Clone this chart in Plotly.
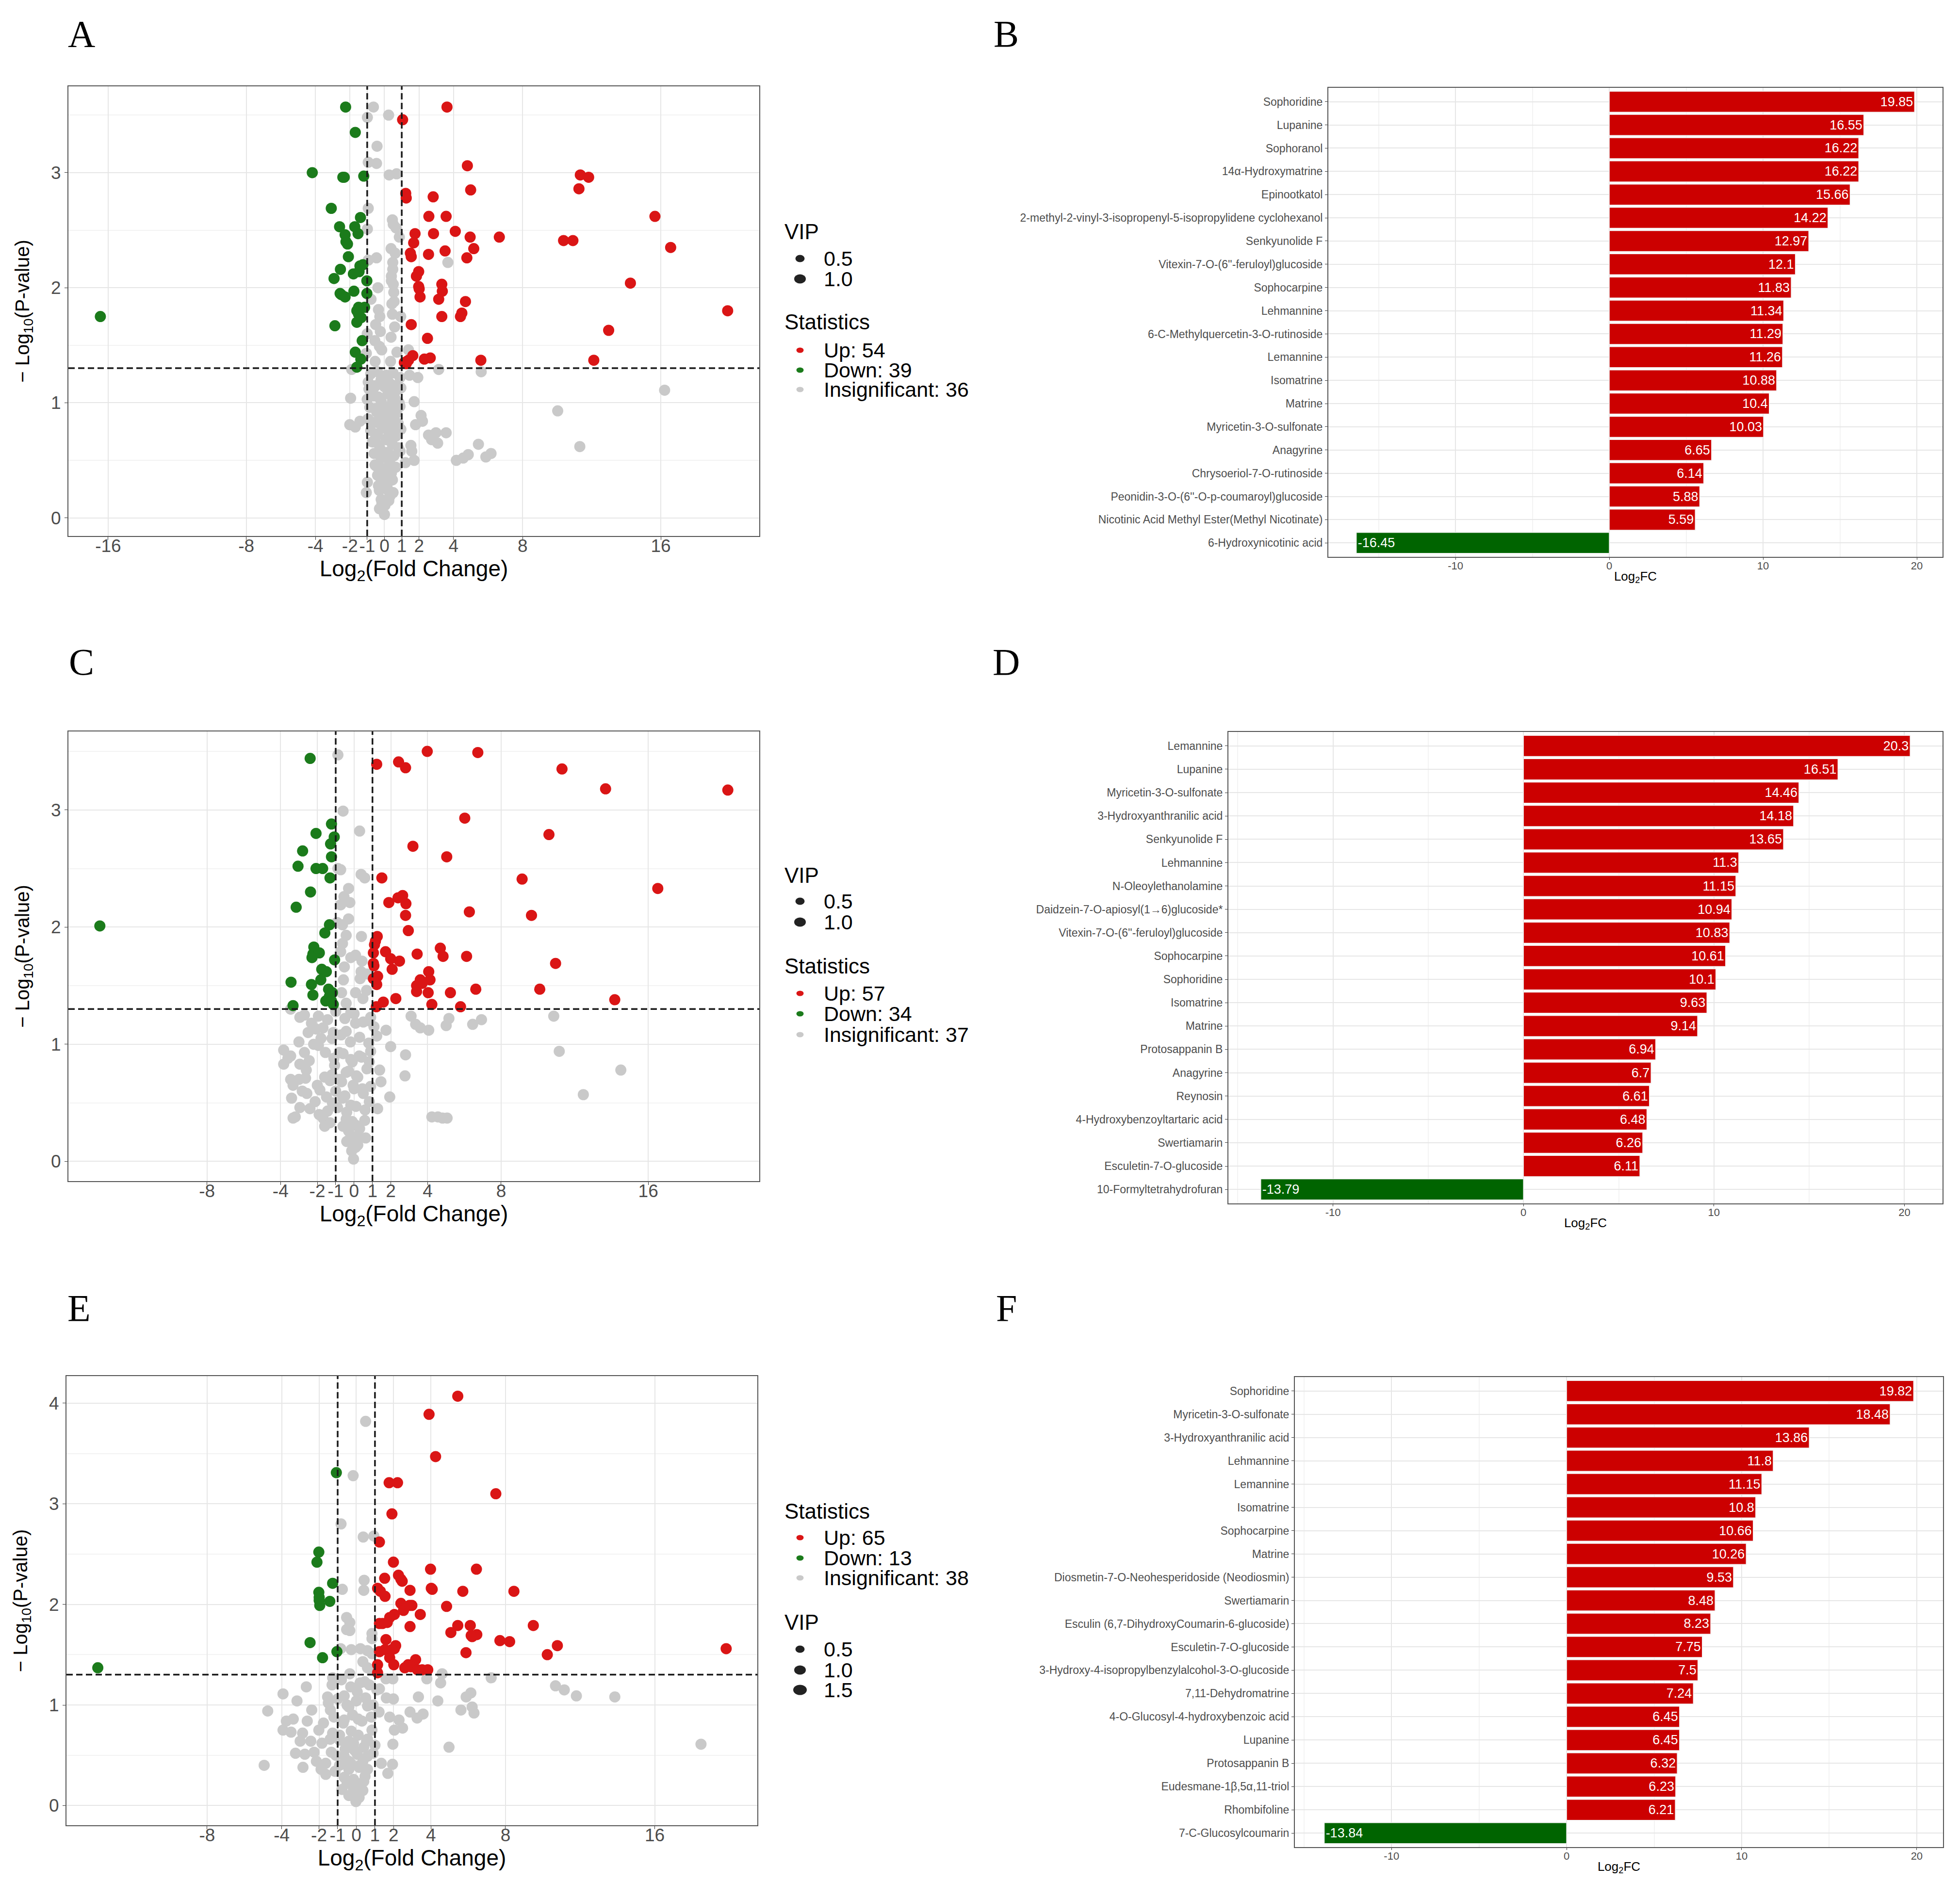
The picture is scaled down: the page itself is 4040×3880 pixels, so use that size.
import plotly.graph_objects as go

W, H = 4040, 3880

# ── Colours / fonts ───────────────────────────────────────────────────────────
RED, GREEN, GREY = "#DA1515", "#1B7B1B", "#C9C9C9"
BAR_RED, BAR_GREEN = "#CC0000", "#006400"
GRID, GRID_MINOR, FRAME = "#E6E6E6", "#F3F3F3", "#555555"
SANS = "Liberation Sans, Arial, sans-serif"
SERIF = "Liberation Serif, Times New Roman, serif"

# thresholds drawn as dashed lines
FC_CUT = 1
P_CUT = 1.30103   # -log10(0.05)

# ── Panel A: volcano (log2FC, -log10 p) ───────────────────────────────────────
a_up = [(3.62, 3.57), (1.05, 3.46), (4.8, 3.06), (11.34, 2.98), (11.82, 2.96), (11.26, 2.86),
        (4.99, 2.85), (1.23, 2.82), (1.26, 2.78), (2.82, 2.79), (2.57, 2.62), (3.57, 2.62),
        (15.66, 2.62), (1.77, 2.47), (2.84, 2.47), (4.1, 2.49), (4.96, 2.44), (6.65, 2.44),
        (10.37, 2.41), (10.91, 2.41), (16.57, 2.35), (1.69, 2.39), (3.51, 2.32), (5.17, 2.34),
        (1.5, 2.30), (1.55, 2.27), (2.55, 2.29), (4.77, 2.26), (1.98, 2.14), (1.85, 2.10),
        (14.24, 2.04), (3.32, 2.03), (3.35, 1.97), (1.98, 2.01), (2.01, 1.99), (2.06, 1.92),
        (3.14, 1.90), (4.69, 1.88), (19.87, 1.80), (4.48, 1.78), (4.4, 1.75), (3.32, 1.75),
        (1.55, 1.68), (12.98, 1.63), (2.49, 1.56), (1.64, 1.41), (2.65, 1.39), (2.31, 1.38),
        (5.58, 1.37), (12.12, 1.37), (1.39, 1.37), (1.26, 1.34), (1.15, 1.35), (1.3, 1.36)]
a_down = [(-16.45, 1.75), (-2.25, 3.57), (-1.69, 3.35), (-4.18, 3.0), (-2.41, 2.96), (-2.33, 2.96),
          (-1.2, 2.97), (-3.08, 2.69), (-1.39, 2.61), (-2.6, 2.53), (-1.72, 2.53), (-1.53, 2.47),
          (-2.28, 2.46), (-2.23, 2.40), (-2.14, 2.38), (-2.09, 2.27), (-1.42, 2.19), (-2.55, 2.16),
          (-1.47, 2.14), (-1.8, 2.12), (-2.92, 2.08), (-1.02, 2.06), (-1.77, 1.97), (-2.57, 1.95),
          (-2.5, 1.94), (-2.28, 1.92), (-1.02, 1.95), (-1.15, 1.83), (-1.5, 1.83), (-1.6, 1.80),
          (-1.5, 1.77), (-1.6, 1.70), (-2.87, 1.67), (-1.29, 1.54), (-1.69, 1.44), (-1.37, 1.38),
          (-1.6, 1.31), (-1.35, 1.74), (-1.25, 2.2)]
a_grey = [(-0.64, 3.57), (0.24, 3.5), (-0.99, 3.48), (-0.43, 3.23), (-0.94, 3.09), (-0.46, 3.08),
          (0.27, 2.98), (0.7, 2.99), (-0.94, 2.69), (0.46, 2.59), (0.51, 2.55), (-0.99, 2.51),
          (0.67, 2.52), (0.86, 2.44), (0.38, 2.34), (0.62, 2.30), (-0.46, 2.26), (-0.94, 2.24),
          (3.67, 2.22), (0.48, 2.22), (0.48, 2.16), (0.4, 2.1), (0.4, 2.06), (0.51, 2.03),
          (-0.38, 2.0), (0.54, 1.96), (-0.78, 1.90), (0.56, 1.88), (0.43, 1.86), (-0.35, 1.81),
          (-0.27, 1.75), (0.46, 1.77), (0.94, 1.75), (-0.51, 1.68), (0.59, 1.66), (-0.24, 1.62),
          (0.38, 1.57), (-1.0, 1.60), (-0.56, 1.54), (-0.29, 1.49), (-0.16, 1.46), (1.39, 1.46),
          (0.72, 1.44), (-1.05, 1.43), (0.35, 1.36), (-0.54, 1.36), (-1.9, 1.29), (3.14, 1.29),
          (5.6, 1.27), (-0.16, 1.23), (-0.94, 1.18), (0.19, 1.19), (1.45, 1.24), (1.93, 1.22),
          (-0.62, 1.13), (0.59, 1.15), (16.22, 1.11), (-1.96, 1.04), (1.72, 1.01), (-0.35, 1.05),
          (0.46, 1.02), (10.03, 0.93), (-0.51, 0.95), (0.08, 0.93), (2.12, 0.89), (2.2, 0.84),
          (-1.42, 0.84), (-2.01, 0.81), (1.8, 0.81), (-0.29, 0.82), (0.4, 0.79), (-1.69, 0.79),
          (2.55, 0.72), (2.98, 0.74), (3.57, 0.74), (2.73, 0.68), (3.08, 0.65), (-0.51, 0.70),
          (0.13, 0.69), (11.31, 0.62), (5.44, 0.64), (1.53, 0.63), (1.58, 0.58), (6.17, 0.56),
          (5.87, 0.53), (4.85, 0.55), (4.56, 0.52), (4.16, 0.50), (1.72, 0.50), (1.21, 0.48),
          (-0.21, 0.59), (0.29, 0.53), (-0.48, 0.45), (0.19, 0.42), (-0.08, 0.36), (0.46, 0.33),
          (-0.35, 0.28), (0.13, 0.25), (-0.99, 0.31), (-1.05, 0.22), (-0.19, 0.16), (0.03, 0.11),
          (-0.29, 0.08), (0.0, 0.03), (0.32, 0.19),
          (-0.8, 1.25), (-0.4, 1.27), (0.1, 1.24), (0.5, 1.26), (0.9, 1.22), (-0.2, 1.2),
          (-0.9, 1.12), (-0.5, 1.15), (0.0, 1.14), (0.3, 1.17), (0.7, 1.11), (0.95, 1.13),
          (-1.0, 1.03), (-0.6, 1.06), (-0.2, 1.02), (0.2, 1.08), (0.6, 1.04), (0.85, 1.0),
          (-0.85, 0.96), (-0.45, 0.92), (-0.1, 0.98), (0.3, 0.95), (0.7, 0.91), (0.9, 0.97),
          (-0.95, 0.86), (-0.65, 0.83), (-0.25, 0.88), (0.15, 0.84), (0.5, 0.87), (0.8, 0.82),
          (-0.8, 0.76), (-0.4, 0.73), (0.0, 0.78), (0.35, 0.75), (0.65, 0.71), (0.95, 0.77),
          (-0.7, 0.66), (-0.3, 0.63), (0.1, 0.68), (0.45, 0.64), (0.8, 0.61),
          (-0.6, 0.56), (-0.2, 0.52), (0.2, 0.57), (0.55, 0.54), (0.9, 0.58),
          (-0.55, 0.46), (-0.1, 0.43), (0.3, 0.48), (0.65, 0.44),
          (-0.4, 0.37), (0.0, 0.34), (0.4, 0.39), (-0.3, 0.24), (0.15, 0.27), (0.5, 0.22),
          (-0.15, 0.13), (0.25, 0.15)]

# ── Panel C: volcano ──────────────────────────────────────────────────────────
c_up = [(3.98, 3.50), (6.73, 3.49), (1.23, 3.39), (2.42, 3.41), (2.80, 3.36), (11.31, 3.35),
        (13.68, 3.18), (20.33, 3.17), (6.02, 2.93), (10.6, 2.79), (3.2, 2.69), (5.04, 2.60),
        (1.51, 2.42), (9.14, 2.41), (16.52, 2.33), (2.64, 2.27), (2.39, 2.25), (1.89, 2.21),
        (2.82, 2.20), (6.27, 2.13), (9.65, 2.10), (2.8, 2.10), (2.95, 1.97), (1.26, 1.92),
        (1.16, 1.88), (1.11, 1.85), (4.69, 1.82), (1.71, 1.79), (1.05, 1.78), (3.43, 1.77),
        (4.84, 1.75), (6.12, 1.75), (1.99, 1.73), (2.47, 1.71), (1.05, 1.69), (1.08, 1.67),
        (10.96, 1.69), (2.07, 1.64), (4.06, 1.62), (3.6, 1.55), (4.13, 1.55), (1.28, 1.58),
        (1.05, 1.56), (1.23, 1.51), (3.4, 1.50), (6.62, 1.47), (10.1, 1.47), (3.4, 1.45),
        (4.03, 1.44), (5.24, 1.44), (2.27, 1.39), (14.18, 1.38), (1.59, 1.36), (4.23, 1.34),
        (5.79, 1.32), (1.21, 1.32), (3.7, 1.52)]
c_down = [(-13.83, 2.01), (-2.39, 3.44), (-1.23, 2.88), (-2.07, 2.80), (-1.08, 2.77), (-1.28, 2.71),
          (-2.8, 2.65), (-1.23, 2.60), (-3.05, 2.52), (-2.07, 2.50), (-1.71, 2.50), (-1.31, 2.42),
          (-2.37, 2.30), (-3.15, 2.17), (-1.34, 2.02), (-1.59, 1.95), (-2.19, 1.83), (-2.24, 1.77),
          (-1.89, 1.78), (-2.29, 1.74), (-1.06, 1.72), (-1.76, 1.64), (-1.51, 1.62), (-1.81, 1.55),
          (-3.43, 1.53), (-2.32, 1.51), (-1.39, 1.47), (-1.18, 1.44), (-2.24, 1.42), (-1.34, 1.41),
          (-1.54, 1.37), (-1.13, 1.34), (-3.32, 1.33), (-1.23, 1.37)]
c_grey = [(-0.88, 3.47), (-0.6, 2.99), (0.3, 2.82), (-0.88, 2.50), (-0.73, 2.49), (0.38, 2.45),
          (0.58, 2.42), (-0.3, 2.33), (-0.55, 2.26), (-0.73, 2.19), (-0.23, 2.21), (-0.3, 2.07),
          (-0.93, 2.04), (-0.63, 2.02), (-0.43, 1.93), (0.4, 1.92), (-0.63, 1.86), (-0.73, 1.79),
          (-0.18, 1.74), (0.08, 1.76), (0.43, 1.71), (-0.53, 1.66), (0.38, 1.62), (0.71, 1.60),
          (0.33, 1.56), (-0.58, 1.55), (0.68, 1.46), (0.08, 1.44), (-0.68, 1.44), (0.48, 1.39),
          (-0.43, 1.35), (-3.45, 1.30), (-2.7, 1.25), (-2.95, 1.23), (-1.94, 1.24), (-1.44, 1.21),
          (-0.18, 1.27), (0.08, 1.18), (0.83, 1.20), (3.1, 1.24), (3.35, 1.17), (3.6, 1.14),
          (4.06, 1.12), (5.16, 1.22), (5.01, 1.16), (6.45, 1.17), (6.93, 1.21), (10.86, 1.24),
          (-2.32, 1.18), (-2.07, 1.13), (-1.69, 1.14), (-1.13, 1.10), (-0.43, 1.11), (1.08, 1.15),
          (1.74, 1.12), (1.23, 1.07), (1.99, 0.98), (2.8, 0.91), (11.16, 0.94), (-3.83, 0.95),
          (-3.45, 0.90), (-2.7, 0.93), (-1.94, 0.99), (-1.56, 0.93), (-2.44, 0.86), (-3.83, 0.83),
          (-2.95, 0.83), (-0.81, 0.93), (-0.18, 0.87), (0.28, 0.90), (0.83, 0.85), (-1.06, 0.82),
          (-0.43, 0.76), (0.13, 0.73), (1.39, 0.78), (1.46, 0.68), (2.77, 0.73), (14.51, 0.78),
          (-3.45, 0.70), (-2.64, 0.71), (-3.32, 0.65), (-1.31, 0.69), (-0.68, 0.68), (-0.05, 0.65),
          (0.45, 0.62), (-2.82, 0.60), (-1.86, 0.61), (-2.57, 0.58), (-3.40, 0.54), (-2.12, 0.51),
          (-1.18, 0.50), (-0.63, 0.54), (1.94, 0.55), (12.47, 0.57), (-0.18, 0.48), (0.83, 0.51),
          (-2.95, 0.46), (-1.44, 0.43), (1.28, 0.45), (-3.2, 0.38), (-3.32, 0.37), (4.23, 0.38),
          (4.56, 0.38), (4.81, 0.37), (5.06, 0.37), (-1.69, 0.37), (-1.31, 0.33), (-0.43, 0.36),
          (0.08, 0.31), (0.58, 0.35), (-0.3, 0.26), (0.2, 0.22), (-0.05, 0.17), (0.63, 0.20),
          (0.08, 0.12), (-0.03, 0.02), (-0.13, 0.09),
          (-1.0, 1.28), (-0.5, 1.22), (0.0, 1.26), (0.5, 1.19), (0.9, 1.23),
          (-1.2, 1.05), (-0.7, 1.08), (-0.2, 1.02), (0.3, 1.06), (0.8, 1.01),
          (-1.1, 0.88), (-0.6, 0.92), (-0.1, 0.85), (0.4, 0.89), (0.9, 0.94),
          (-1.2, 0.74), (-0.8, 0.70), (-0.3, 0.77), (0.2, 0.72), (0.7, 0.79),
          (-1.0, 0.60), (-0.5, 0.56), (0.0, 0.62), (0.5, 0.58), (0.9, 0.64),
          (-0.9, 0.46), (-0.4, 0.42), (0.1, 0.47), (0.6, 0.44),
          (-0.6, 0.30), (-0.1, 0.34), (0.3, 0.28), (-0.2, 0.20), (0.2, 0.14), (-0.4, 0.17),
          (-2.5, 1.10), (-3.0, 1.02), (-2.2, 1.00), (-1.8, 1.05), (-2.6, 0.78), (-3.6, 0.88),
          (-1.6, 0.72), (-2.0, 0.65), (-3.0, 0.70), (-1.5, 0.55), (-2.4, 0.45), (-1.9, 0.40),
          (-1.6, 0.30)]

# ── Panel E: volcano ──────────────────────────────────────────────────────────
e_up = [(5.44, 4.07), (3.9, 3.89), (4.25, 3.47), (1.76, 3.21), (2.21, 3.21), (7.48, 3.10),
        (1.91, 2.90), (1.24, 2.62), (1.99, 2.42), (3.98, 2.35), (6.44, 2.35), (1.52, 2.26),
        (2.26, 2.29), (2.39, 2.25), (2.46, 2.23), (1.14, 2.16), (1.29, 2.13), (2.88, 2.14),
        (4.02, 2.16), (4.07, 2.15), (5.71, 2.13), (8.45, 2.13), (1.54, 2.08), (2.39, 2.01),
        (2.98, 1.99), (4.84, 1.98), (2.53, 1.94), (3.43, 1.90), (2.04, 1.90), (1.79, 1.87),
        (1.66, 1.82), (1.24, 1.81), (2.88, 1.78), (5.44, 1.79), (6.11, 1.79), (9.49, 1.79),
        (5.07, 1.72), (6.16, 1.69), (6.46, 1.70), (6.21, 1.68), (1.59, 1.65), (7.7, 1.64),
        (8.22, 1.63), (10.78, 1.59), (19.83, 1.56), (2.11, 1.59), (2.04, 1.56), (1.54, 1.55),
        (1.24, 1.53), (5.88, 1.52), (10.24, 1.50), (1.79, 1.47), (3.18, 1.45), (1.14, 1.40),
        (2.01, 1.40), (2.78, 1.40), (2.93, 1.38), (3.28, 1.35), (3.53, 1.35), (3.83, 1.35),
        (1.14, 1.32), (2.85, 1.99), (1.4, 1.81), (2.6, 1.37), (1.9, 1.55)]
e_down = [(-13.86, 1.37), (-1.07, 3.31), (-2.01, 2.52), (-2.11, 2.42), (-1.27, 2.21), (-2.01, 2.12),
          (-1.99, 2.04), (-1.42, 2.03), (-1.96, 1.99), (-2.48, 1.62), (-1.04, 1.53), (-1.81, 1.47),
          (-1.99, 2.07)]
e_grey = [(0.5, 3.82), (-0.17, 3.28), (-0.82, 2.80), (0.37, 2.67), (0.94, 2.68), (0.42, 2.24),
          (-0.75, 2.15), (0.4, 2.14), (-0.52, 1.87), (-0.35, 1.82), (-0.52, 1.75), (-0.35, 1.74),
          (0.84, 1.71), (0.84, 1.66), (-0.84, 1.56), (-0.27, 1.55), (0.22, 1.56), (0.6, 1.54),
          (0.84, 1.51), (0.35, 1.43), (0.6, 1.37), (0.8, 1.35), (-0.35, 1.31), (4.6, 1.31),
          (4.52, 1.22), (7.23, 1.27), (3.78, 1.26), (1.59, 1.26), (1.96, 1.26), (-1.27, 1.27),
          (0.45, 1.23), (-2.68, 1.18), (-3.93, 1.11), (-3.18, 1.04), (-1.54, 1.08), (-0.65, 1.09),
          (0.05, 1.13), (1.24, 1.16), (3.33, 1.08), (4.37, 1.04), (1.61, 1.07), (1.99, 1.06),
          (6.14, 1.12), (5.89, 1.08), (10.68, 1.19), (11.15, 1.15), (11.8, 1.09), (13.86, 1.08),
          (-4.75, 0.94), (-2.39, 0.95), (-1.39, 0.95), (-0.4, 0.98), (0.6, 0.99), (1.22, 0.93),
          (2.88, 0.93), (5.61, 0.95), (6.21, 0.98), (6.31, 0.92), (3.58, 0.91), (3.26, 0.87),
          (1.79, 0.88), (2.29, 0.85), (-3.38, 0.86), (-3.75, 0.84), (-2.63, 0.84), (-1.76, 0.82),
          (-0.65, 0.85), (0.1, 0.86), (-3.93, 0.75), (-3.5, 0.73), (-2.88, 0.72), (-2.01, 0.75),
          (-1.27, 0.72), (-0.27, 0.74), (0.84, 0.75), (2.04, 0.75), (2.48, 0.77), (-3.01, 0.64),
          (-2.44, 0.64), (-1.84, 0.62), (-0.89, 0.65), (-0.15, 0.62), (0.55, 0.64), (1.96, 0.61),
          (4.97, 0.58), (18.48, 0.61), (-3.26, 0.52), (-2.76, 0.51), (-2.26, 0.53), (-1.34, 0.53),
          (-0.65, 0.49), (0.05, 0.51), (0.6, 0.49), (-2.14, 0.44), (-1.64, 0.42), (-0.4, 0.44),
          (0.35, 0.44), (1.34, 0.42), (1.94, 0.41), (-4.94, 0.40), (-2.86, 0.38), (-1.89, 0.36),
          (-1.14, 0.34), (-0.4, 0.36), (0.15, 0.38), (1.69, 0.32), (-1.64, 0.31), (-0.65, 0.28),
          (-0.15, 0.26), (0.47, 0.29), (-0.77, 0.16), (-0.15, 0.16), (0.35, 0.15), (-0.4, 0.10),
          (-0.02, 0.04), (0.15, 0.08),
          (-1.3, 1.20), (-0.8, 1.25), (-0.3, 1.18), (0.2, 1.22), (0.7, 1.20), (1.1, 1.15),
          (-1.5, 1.02), (-1.0, 1.06), (-0.5, 1.00), (0.0, 1.04), (0.5, 1.07), (0.9, 1.00),
          (-1.2, 0.88), (-0.7, 0.82), (-0.2, 0.90), (0.3, 0.84), (0.8, 0.88),
          (-1.4, 0.66), (-0.9, 0.70), (-0.4, 0.64), (0.1, 0.70), (0.6, 0.66), (1.0, 0.60),
          (-1.1, 0.50), (-0.6, 0.56), (-0.1, 0.55), (0.4, 0.58), (0.9, 0.52),
          (-0.9, 0.40), (-0.3, 0.42), (0.2, 0.40), (0.6, 0.36),
          (-0.5, 0.22), (0.0, 0.20), (0.4, 0.24), (-0.2, 0.10), (0.1, 0.12)]

a_counts = {"up": 54, "down": 39, "insig": "36"}
c_counts = {"up": 57, "down": 34, "insig": "37"}
e_counts = {"up": 65, "down": 13, "insig": "38"}
vip_levels_ac = ["0.5", "1.0"]
vip_levels_e = ["0.5", "1.0", "1.5"]

# ── Bar panels (top 20 by log2FC) ─────────────────────────────────────────────
b_names = ["Sophoridine", "Lupanine", "Sophoranol", "14α-Hydroxymatrine", "Epinootkatol",
           "2-methyl-2-vinyl-3-isopropenyl-5-isopropylidene cyclohexanol", "Senkyunolide F",
           "Vitexin-7-O-(6''-feruloyl)glucoside", "Sophocarpine", "Lehmannine",
           "6-C-Methylquercetin-3-O-rutinoside", "Lemannine", "Isomatrine", "Matrine",
           "Myricetin-3-O-sulfonate", "Anagyrine", "Chrysoeriol-7-O-rutinoside",
           "Peonidin-3-O-(6''-O-p-coumaroyl)glucoside",
           "Nicotinic Acid Methyl Ester(Methyl Nicotinate)", "6-Hydroxynicotinic acid"]
b_vals = [19.85, 16.55, 16.22, 16.22, 15.66, 14.22, 12.97, 12.1, 11.83, 11.34,
          11.29, 11.26, 10.88, 10.4, 10.03, 6.65, 6.14, 5.88, 5.59, -16.45]

d_names = ["Lemannine", "Lupanine", "Myricetin-3-O-sulfonate", "3-Hydroxyanthranilic acid",
           "Senkyunolide F", "Lehmannine", "N-Oleoylethanolamine",
           "Daidzein-7-O-apiosyl(1→6)glucoside*", "Vitexin-7-O-(6''-feruloyl)glucoside",
           "Sophocarpine", "Sophoridine", "Isomatrine", "Matrine", "Protosappanin B",
           "Anagyrine", "Reynosin", "4-Hydroxybenzoyltartaric acid", "Swertiamarin",
           "Esculetin-7-O-glucoside", "10-Formyltetrahydrofuran"]
d_vals = [20.3, 16.51, 14.46, 14.18, 13.65, 11.3, 11.15, 10.94, 10.83, 10.61,
          10.1, 9.63, 9.14, 6.94, 6.7, 6.61, 6.48, 6.26, 6.11, -13.79]

f_names = ["Sophoridine", "Myricetin-3-O-sulfonate", "3-Hydroxyanthranilic acid", "Lehmannine",
           "Lemannine", "Isomatrine", "Sophocarpine", "Matrine",
           "Diosmetin-7-O-Neohesperidoside (Neodiosmin)", "Swertiamarin",
           "Esculin (6,7-DihydroxyCoumarin-6-glucoside)", "Esculetin-7-O-glucoside",
           "3-Hydroxy-4-isopropylbenzylalcohol-3-O-glucoside", "7,11-Dehydromatrine",
           "4-O-Glucosyl-4-hydroxybenzoic acid", "Lupanine", "Protosappanin B",
           "Eudesmane-1β,5α,11-triol", "Rhombifoline", "7-C-Glucosylcoumarin"]
f_vals = [19.82, 18.48, 13.86, 11.8, 11.15, 10.8, 10.66, 10.26, 9.53, 8.48,
          8.23, 7.75, 7.5, 7.24, 6.45, 6.45, 6.32, 6.23, 6.21, -13.84]

VOLC_X_TICKS_A = [-16, -8, -4, -2, -1, 0, 1, 2, 4, 8, 16]
VOLC_X_TICKS_CE = [-8, -4, -2, -1, 0, 1, 2, 4, 8, 16]

# legend key sizes (w, h px) - the source image is stretched sideways a bit
VIP_KEY = {"0.5": (19, 15), "1.0": (24, 19), "1.5": (28, 21)}
STAT_KEY = (15, 11)


def dom_x(l, r):
    return [l / W, r / W]


def dom_y(t, b):
    return [1 - b / H, 1 - t / H]


fig = go.Figure()


def key_text(text, x, y, size):
    fig.add_annotation(text=text, x=x / W, y=1 - y / H, xref="paper", yref="paper",
                       showarrow=False, xanchor="left", yanchor="middle",
                       font=dict(family=SANS, size=size, color="black"))


def key_dot(x, y, wh, color):
    w, h = wh
    fig.add_shape(type="circle", xref="paper", yref="paper", xsizemode="pixel", ysizemode="pixel",
                  xanchor=x / W, yanchor=1 - y / H, x0=-w / 2, x1=w / 2, y0=-h / 2, y1=h / 2,
                  fillcolor=color, line=dict(width=0))


def legend_block(blocks, x_title=1607, x_dot=1641, x_text=1688):
    # blocks: list of (title, title_y, [(label, y, colour, (w, h)), ...])
    for title, ty, items in blocks:
        key_text(title, x_title, ty, 44)
        for label, y, col, wh in items:
            key_dot(x_dot, y, wh, col)
            key_text(label, x_text, y, 43)


def volcano(n, grey, down, up, xr, yr, xticks, yticks, frame):
    xa = "x" if n == 1 else f"x{n}"
    ya = "y" if n == 1 else f"y{n}"
    for pts, col in [(grey, GREY), (down, GREEN), (up, RED)]:
        fig.add_trace(go.Scatter(
            x=[p[0] for p in pts], y=[p[1] for p in pts], mode="markers",
            marker=dict(color=col, size=23, line=dict(width=0)),
            xaxis=xa, yaxis=ya, showlegend=False, hoverinfo="skip"))

    key = "" if n == 1 else str(n)
    fig.update_layout(**{
        f"xaxis{key}": dict(
            domain=dom_x(frame[0], frame[1]), anchor=ya, range=xr,
            tickvals=xticks, ticktext=[str(t) for t in xticks], tickangle=0,
            showgrid=True, gridcolor=GRID, gridwidth=2, zeroline=False,
            showline=True, mirror=True, linecolor=FRAME, linewidth=2,
            ticks="outside", ticklen=6, tickcolor="#333333", ticklabelstandoff=-19,
            tickfont=dict(size=37, color="#4D4D4D"),
            title=dict(text="Log<sub>2</sub>(Fold Change)", font=dict(size=46, color="black"), standoff=0)),
        f"yaxis{key}": dict(
            domain=dom_y(frame[2], frame[3]), anchor=xa, range=yr,
            tickvals=yticks, ticktext=[str(t) for t in yticks],
            showgrid=True, gridcolor=GRID, gridwidth=2, zeroline=False,
            minor=dict(dtick=0.5, showgrid=True, gridcolor=GRID_MINOR, gridwidth=1.5),
            showline=True, mirror=True, linecolor=FRAME, linewidth=2,
            ticks="outside", ticklen=6, tickcolor="#333333",
            tickfont=dict(size=37, color="#4D4D4D"),
            title=dict(text="\u2212 Log<sub>10</sub>(P-value)", font=dict(size=40, color="black"), standoff=32)),
    })
    dashed = dict(color="#1A1A1A", width=3.5, dash="13px,7px")
    for xv in (-FC_CUT, FC_CUT):
        fig.add_shape(type="line", xref=xa, yref=f"{ya} domain", x0=xv, x1=xv, y0=0, y1=1,
                      line=dashed)
    fig.add_shape(type="line", xref=f"{xa} domain", yref=ya, x0=0, x1=1, y0=P_CUT, y1=P_CUT,
                  line=dashed)


def bars(n, names, vals, xr, frame):
    xa, ya = f"x{n}", f"y{n}"
    fig.add_trace(go.Bar(
        x=vals, y=names, orientation="h", width=0.9,
        marker=dict(color=[BAR_RED if v > 0 else BAR_GREEN for v in vals],
                    line=dict(color="#F2F2F2", width=1.5)),
        text=[str(v) for v in vals], textposition="inside", insidetextanchor="end",
        textangle=0, textfont=dict(size=27, color="white", family=SANS),
        constraintext="none",
        xaxis=xa, yaxis=ya, showlegend=False, hoverinfo="skip"))
    # ggplot discrete axis: 0.6 slot of padding on each end
    fig.update_layout(**{
        f"xaxis{n}": dict(
            domain=dom_x(frame[0], frame[1]), anchor=ya, range=xr,
            tickvals=[-10, 0, 10, 20], ticktext=["-10", "0", "10", "20"],
            showgrid=True, gridcolor=GRID, gridwidth=2, zeroline=False,
            minor=dict(tickvals=[-15, -5, 5, 15], showgrid=True, gridcolor=GRID_MINOR, gridwidth=1.5),
            showline=True, mirror=True, linecolor=FRAME, linewidth=2,
            ticks="outside", ticklen=4, tickcolor="#333333", ticklabelstandoff=-6,
            tickfont=dict(size=22, color="#4D4D4D"),
            title=dict(text="Log<sub>2</sub>FC", font=dict(size=26, color="black"), standoff=0)),
        f"yaxis{n}": dict(
            domain=dom_y(frame[2], frame[3]), anchor=xa,
            type="category", categoryorder="array", categoryarray=names,
            range=[len(names) - 0.4, -0.6],
            showgrid=True, gridcolor=GRID, gridwidth=2, zeroline=False,
            showline=True, mirror=True, linecolor=FRAME, linewidth=2,
            ticks="outside", ticklen=5, tickcolor="#333333",
            tickfont=dict(size=23, color="#4D4D4D")),
    })


# frames in pixels: left, right, top, bottom
volcano(1, a_grey, a_down, a_up, [-18.3, 21.7], [-0.157, 3.75], VOLC_X_TICKS_A, [0, 1, 2, 3],
        (133, 1557, 170, 1097))
bars(2, b_names, b_vals, [-18.27, 21.67], (2730, 3996, 173, 1140))
volcano(3, c_grey, c_down, c_up, [-15.54, 22.04], [-0.168, 3.67], VOLC_X_TICKS_CE, [0, 1, 2, 3],
        (133, 1557, 1500, 2427))
bars(4, d_names, d_vals, [-15.49, 22.0], (2524, 3996, 1501, 2473))
volcano(5, e_grey, e_down, e_up, [-15.54, 21.5], [-0.196, 4.27], VOLC_X_TICKS_CE, [0, 1, 2, 3, 4],
        (129, 1553, 2829, 3755))
bars(6, f_names, f_vals, [-15.52, 21.5], (2661, 3997, 2831, 3800))


def stat_items(counts, ys):
    labels = [f"Up: {counts['up']}", f"Down: {counts['down']}", f"Insignificant: {counts['insig']}"]
    return [(lab, y, col, STAT_KEY) for lab, y, col in zip(labels, ys, [RED, GREEN, GREY])]


def vip_items(levels, ys):
    return [(lv, y, "#222222", VIP_KEY[lv]) for lv, y in zip(levels, ys)]


legend_block([("VIP", 469, vip_items(vip_levels_ac, [525, 567])),
              ("Statistics", 655, stat_items(a_counts, [714, 755, 795]))])
legend_block([("VIP", 1796, vip_items(vip_levels_ac, [1850, 1893])),
              ("Statistics", 1984, stat_items(c_counts, [2040, 2082, 2125]))])
legend_block([("Statistics", 3107, stat_items(e_counts, [3162, 3204, 3245])),
              ("VIP", 3336, vip_items(vip_levels_e, [3392, 3435, 3476]))])

for letter, px_, py_ in [("A", 160, 62), ("B", 2066, 62), ("C", 160, 1356),
                         ("D", 2066, 1356), ("E", 155, 2688), ("F", 2066, 2688)]:
    fig.add_annotation(text=letter, x=px_ / W, y=1 - py_ / H, xref="paper", yref="paper",
                       showarrow=False, xanchor="center", yanchor="middle",
                       font=dict(family=SERIF, size=78, color="black"))

fig.update_layout(
    width=W, height=H, margin=dict(l=0, r=0, t=0, b=0),
    paper_bgcolor="white", plot_bgcolor="white", showlegend=False,
    font=dict(family=SANS, color="black"),
)

fig.write_html("out.html")
